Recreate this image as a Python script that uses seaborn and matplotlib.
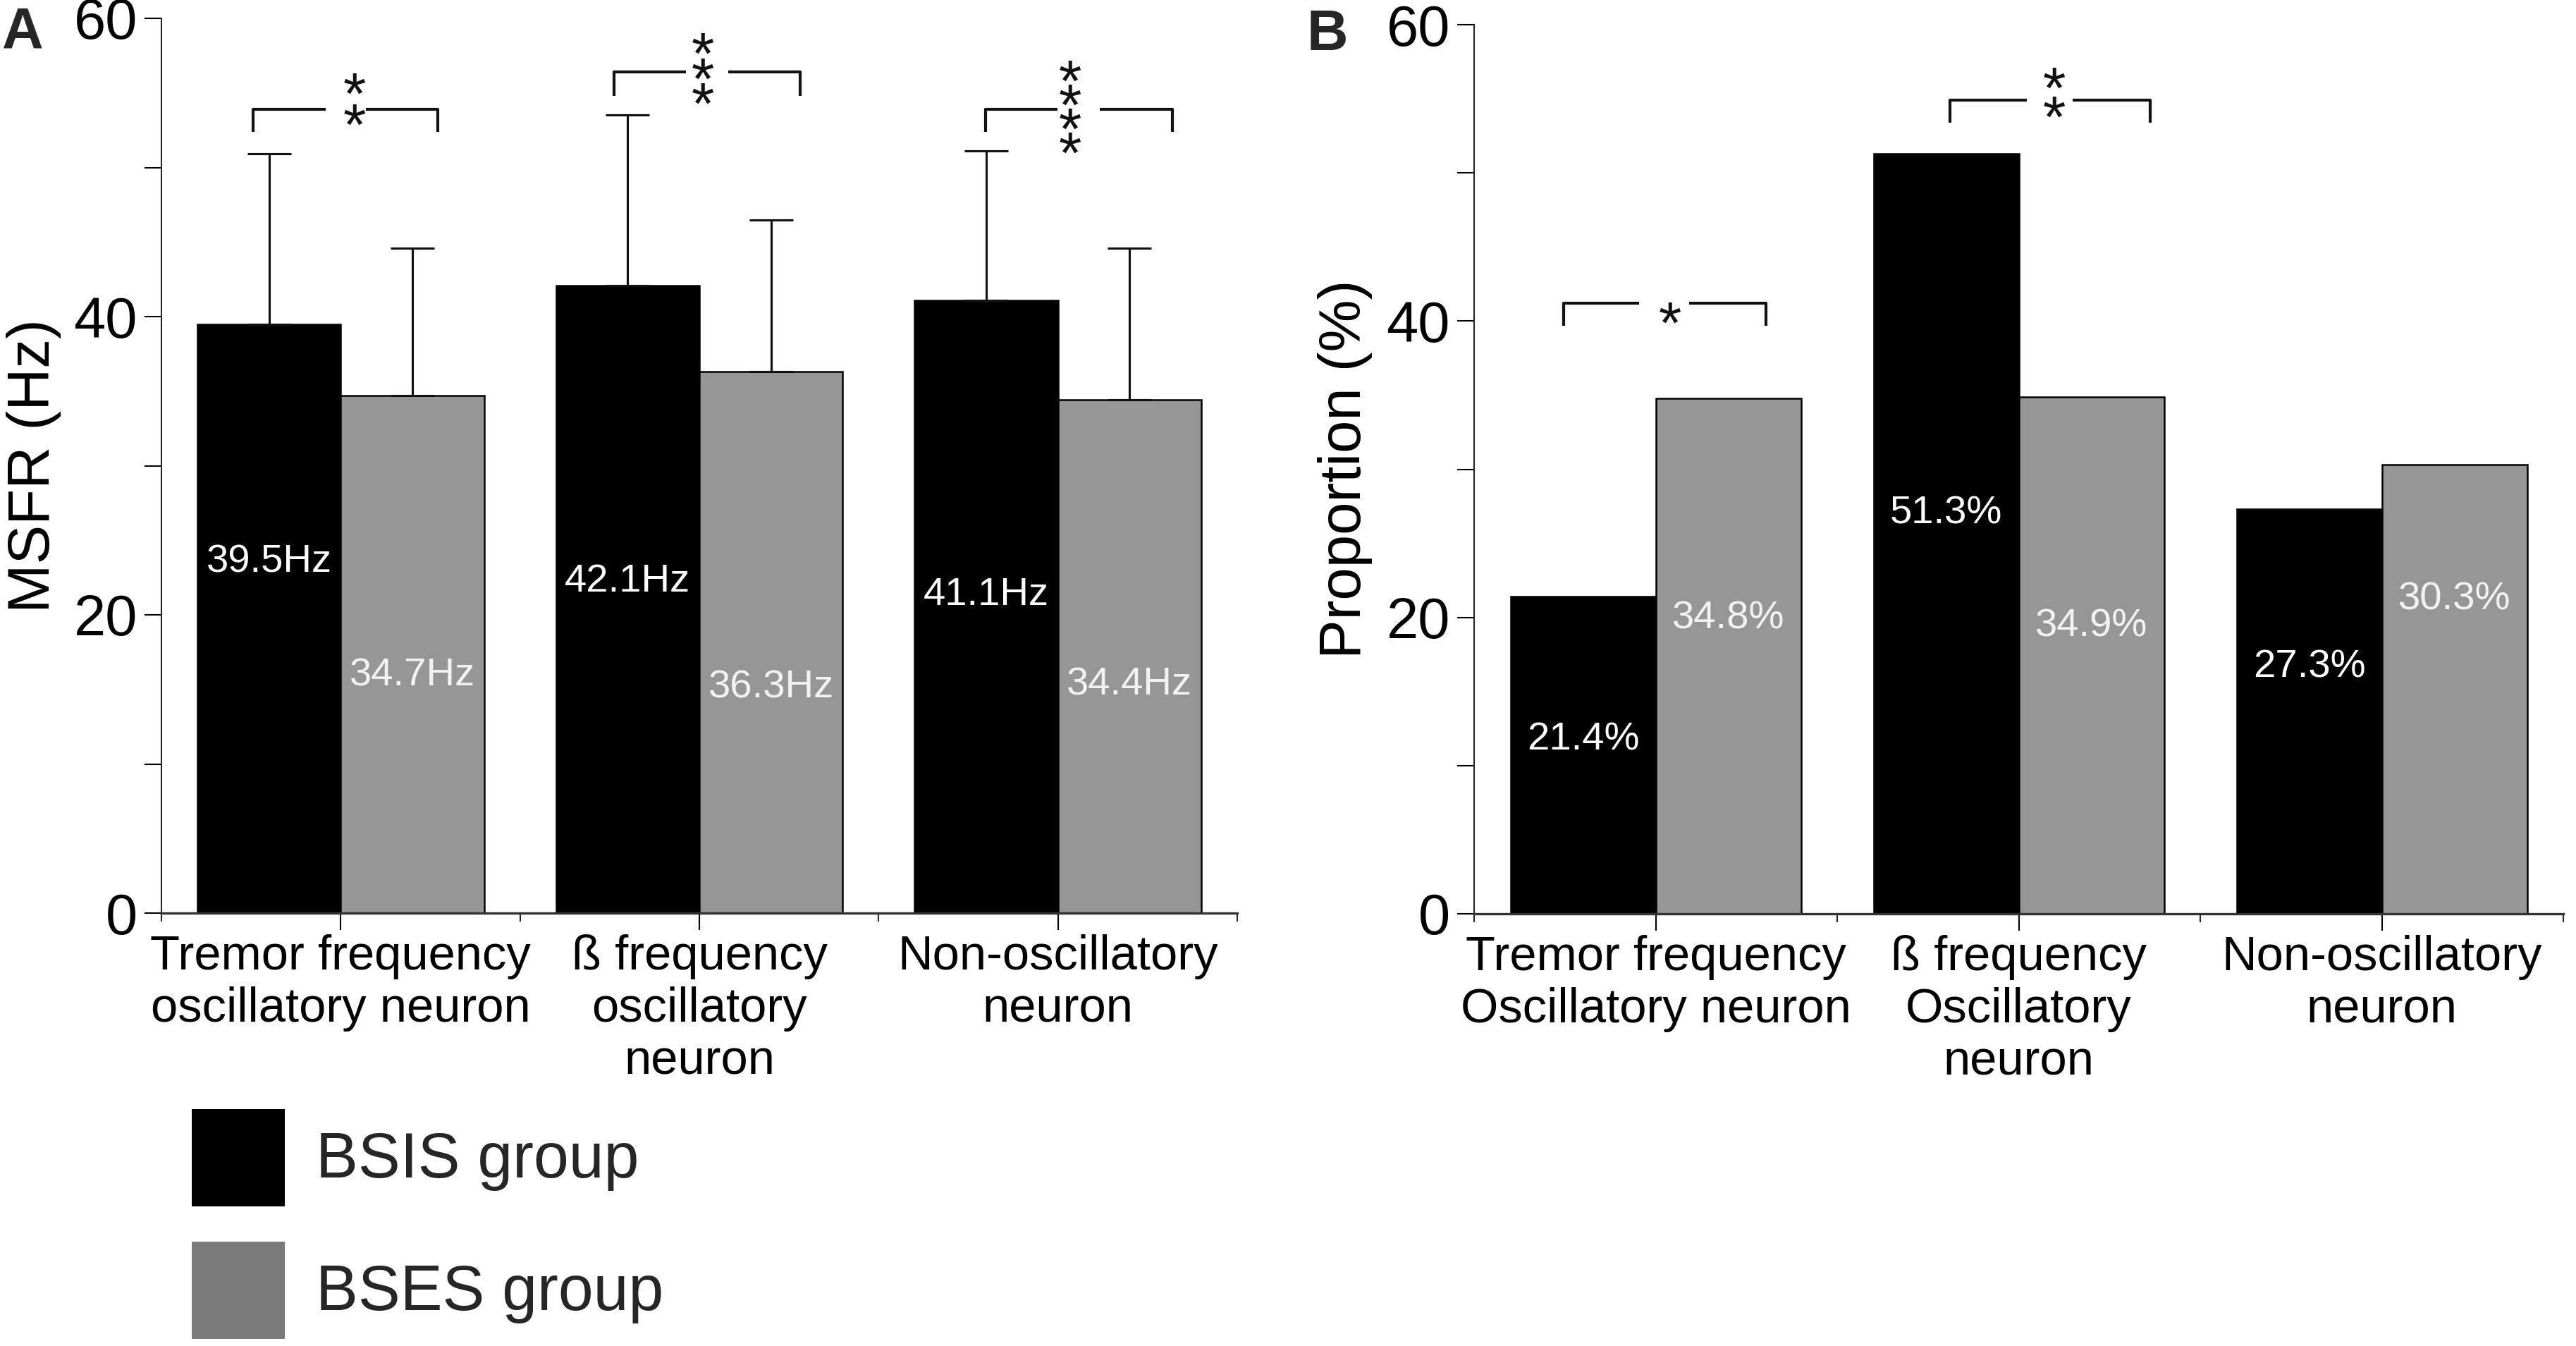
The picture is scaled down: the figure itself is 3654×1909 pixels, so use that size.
import numpy as np
import pandas as pd
import matplotlib
matplotlib.use("Agg")
import matplotlib.pyplot as plt
import seaborn as sns
from matplotlib.patches import Patch

# ---- data ----
groups = ["BSIS group", "BSES group"]
msfr_cats = ["Tremor frequency\noscillatory neuron",
             "ß frequency\noscillatory\nneuron",
             "Non-oscillatory\nneuron"]
prop_cats = ["Tremor frequency\nOscillatory neuron",
             "ß frequency\nOscillatory\nneuron",
             "Non-oscillatory\nneuron"]

msfr_bsis = [39.5, 42.1, 41.1]
msfr_bses = [34.7, 36.3, 34.4]
msfr_sd_bsis = [11.4, 11.4, 10.0]
msfr_sd_bses = [9.9, 10.2, 10.2]

prop_bsis = [21.4, 51.3, 27.3]
prop_bses = [34.8, 34.9, 30.3]

msfr_stars = ["**", "***", "****"]
prop_stars = ["*", "**"]

# ---- layout constants (data coords) ----
# value label vertical centres, in bar order (BSIS x3, BSES x3)
msfr_label_y = [23.8, 22.5, 21.6, 16.2, 15.4, 15.6]
prop_label_y = [12.0, 27.3, 16.9, 20.2, 19.7, 21.5]
# brackets: x_left, x_right, y, drop, gap_left, gap_right, star_x, bottom star y, star step
msfr_brackets = [
    (-0.245, 0.271, 53.9, 1.5, -0.042, 0.071, 0.039, 53.8, 2.1),
    (0.763, 1.282, 56.4, 1.6, 0.963, 1.080, 1.010, 55.2, 1.7),
    (1.798, 2.319, 53.9, 1.5, 1.998, 2.116, 2.034, 51.9, 1.63),
]
prop_brackets = [
    (-0.253, 0.303, 41.2, 1.5, -0.046, 0.092, 0.039, 40.8, 2.0),
    (0.811, 1.363, 54.9, 1.5, 1.023, 1.149, 1.097, 54.7, 2.0),
]
STAR_FS = 20

sns.set_theme(style="ticks")
plt.rcParams["font.family"] = ["Liberation Sans", "DejaVu Sans"]

W, H = 3654, 1909
DPI = 300
fig = plt.figure(figsize=(W / DPI, H / DPI), dpi=DPI)
axA = fig.add_axes([229 / W, 1 - 1295 / H, (1755 - 229) / W, (1295 - 26) / H])
axB = fig.add_axes([2091 / W, 1 - 1296 / H, (3636 - 2091) / W, (1296 - 35) / H])

colors = ["#000000", "#969696"]


def draw_panel(ax, cats, v1, v2, ylabel, label_y, fmt, brackets, stars, sd=None):
    df = pd.DataFrame({
        "cat": cats * 2,
        "group": [groups[0]] * 3 + [groups[1]] * 3,
        "value": list(v1) + list(v2),
    })
    sns.barplot(data=df, x="cat", y="value", hue="group", palette=colors,
                errorbar=None, edgecolor="black", linewidth=0.6, width=0.8,
                legend=False, ax=ax)
    bars = ax.patches[:6]
    xs = np.array([b.get_x() + b.get_width() / 2 for b in bars])
    hs = np.array([b.get_height() for b in bars])
    if sd is not None:
        ax.errorbar(xs, hs, yerr=[np.zeros(6), sd], fmt="none", ecolor="#111111",
                    elinewidth=0.75, capsize=7.5, capthick=0.75, zorder=3)
    txtcol = ["white"] * 3 + ["#f2f2f2"] * 3
    for x, y, v, c in zip(xs, label_y, hs, txtcol):
        ax.annotate(fmt.format(v), (x, y), xytext=(0, -0.358 * 13.5),
                    textcoords="offset points", ha="center", va="baseline",
                    fontsize=13.5, color=c)

    ax.set_xlim(-0.5, 2.5)
    ax.set_ylim(0, 60)
    # points per data unit on the y axis
    pt_per_unit = ax.get_position().height * H / 60 * 72 / DPI
    for (x0, x1, y, drop, g0, g1, sx, sy, step), st in zip(brackets, stars):
        kw = dict(color="#111111", lw=1.0, solid_capstyle="butt", clip_on=False)
        ax.plot([x0, x0, g0], [y - drop, y, y], **kw)
        ax.plot([g1, x1, x1], [y, y, y - drop], **kw)
        # matplotlib line step = ascent*linespacing + descent
        ls = (step * pt_per_unit - 0.212 * STAR_FS) / (0.728 * STAR_FS)
        ax.annotate("\n".join(st), (sx, sy), xytext=(0, -0.58 * STAR_FS),
                    textcoords="offset points", ha="center", va="baseline",
                    fontsize=STAR_FS, color="#111111", linespacing=ls)

    ax.set_yticks(range(0, 61, 10))
    ax.set_yticklabels(["0", "", "20", "", "40", "", "60"])
    ax.set_xticks([0, 1, 2])
    ax.set_xticklabels(cats)
    ax.set_xticks([-0.5, 0.5, 1.5, 2.5], minor=True)
    ax.tick_params(axis="x", which="major", length=5.8, width=0.5, pad=1.5,
                   labelsize=16.5, colors="black")
    ax.tick_params(axis="x", which="minor", length=2.8, width=0.5)
    ax.tick_params(axis="y", length=5.8, width=0.5, pad=2.4, labelsize=19.5,
                   colors="black")
    ax.set_xlabel("")
    ax.set_ylabel(ylabel, fontsize=20, color="black")
    ax.yaxis.set_label_coords(-0.093, 0.5)
    sns.despine(ax=ax)
    ax.spines["left"].set_linewidth(0.5)
    ax.spines["bottom"].set_linewidth(0.8)
    ax.spines["bottom"].set_color("#333333")


draw_panel(axA, msfr_cats, msfr_bsis, msfr_bses, "MSFR (Hz)", msfr_label_y,
           "{:.1f}Hz", msfr_brackets, msfr_stars,
           sd=list(msfr_sd_bsis) + list(msfr_sd_bses))
draw_panel(axB, prop_cats, prop_bsis, prop_bses, "Proportion (%)", prop_label_y,
           "{:.1f}%", prop_brackets, prop_stars)

fig.text(3 / W, 1 - 8 / H, "A", fontsize=19.5, fontweight="bold", ha="left", va="top")
fig.text(1854 / W, 1 - 12 / H, "B", fontsize=19.5, fontweight="bold", ha="left", va="top")

handles = [Patch(facecolor="#000000", edgecolor="none"),
           Patch(facecolor="#7a7a7a", edgecolor="none")]
fig.legend(handles, groups, loc="upper left", bbox_to_anchor=(272 / W, 1 - 1573 / H),
           frameon=False, fontsize=21.5, handlelength=1.47, handleheight=1.99,
           labelspacing=0.56, handletextpad=0.5, borderpad=0, borderaxespad=0)

fig.savefig("out.png", dpi=DPI, facecolor="white")
